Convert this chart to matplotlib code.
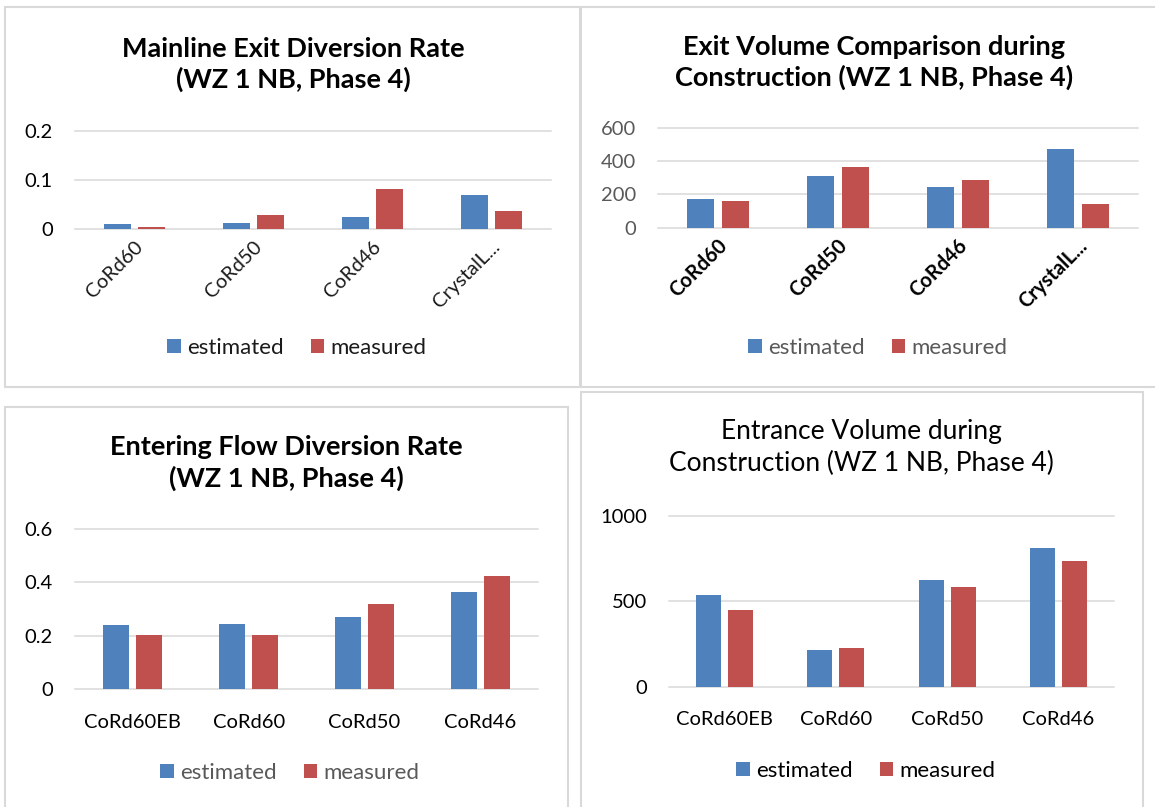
import numpy as np
import matplotlib
matplotlib.use('Agg')
import matplotlib.pyplot as plt
from matplotlib.patches import Rectangle
from matplotlib.transforms import ScaledTranslation

plt.rcParams['font.family'] = ['Lato', 'DejaVu Sans']

# data
exit_sites = ['CoRd60', 'CoRd50', 'CoRd46', 'CrystalL...']
enter_sites = ['CoRd60EB', 'CoRd60', 'CoRd50', 'CoRd46']
series = ['estimated', 'measured']

exit_rate_est = [0.0096, 0.0116, 0.0247, 0.0685]
exit_rate_meas = [0.0034, 0.029, 0.0815, 0.037]
exit_vol_est = [175, 311, 245, 472]
exit_vol_meas = [163, 367, 287, 142]
enter_rate_est = [0.239, 0.243, 0.270, 0.365]
enter_rate_meas = [0.204, 0.204, 0.319, 0.424]
enter_vol_est = [537, 214, 623, 809]
enter_vol_meas = [449, 226, 582, 735]

W, H = 1155, 807
BLUE, RED, GRID = '#4F81BD', '#C0504D', '#D9D9D9'

fig = plt.figure(figsize=(W / 100, H / 100), dpi=100)


def px_rect(x0, y0, x1, y1):
    return [x0 / W, 1 - y1 / H, (x1 - x0) / W, (y1 - y0) / H]


# panel borders
for x0, y0, x1, y1 in [(5, 7, 580, 387), (581, 7, 1165, 387),
                       (5, 407, 568, 820), (581, 392, 1143, 820)]:
    fig.patches.append(Rectangle((x0 / W, 1 - y1 / H), (x1 - x0) / W, (y1 - y0) / H,
                                 transform=fig.transFigure, fill=False,
                                 edgecolor=GRID, lw=1.5))


def panel(box, cats, est, meas, ticks, title, title_xy, bold_title, legend_xy,
          rotate=False, ytick_color='black', xtick_color='black',
          xtick_bold=False, legend_color='black'):
    ax = fig.add_axes(px_rect(*box))
    x = np.arange(len(cats))
    ax.bar(x - 0.143, est, 0.225, color=BLUE, label=series[0], zorder=3)
    ax.bar(x + 0.143, meas, 0.225, color=RED, label=series[1], zorder=3)
    ax.set_xlim(-0.5, len(cats) - 0.5)
    ax.set_ylim(ticks[0], ticks[-1])
    for t in ticks:
        ax.axhline(t, color=GRID, lw=1.1, zorder=1, clip_on=False)
    for s in ax.spines.values():
        s.set_visible(False)
    ax.set_yticks(ticks)
    ax.set_yticklabels([f'{t:g}' for t in ticks])
    ax.tick_params(axis='y', length=0, pad=16, labelsize=14.5, labelcolor=ytick_color)
    ax.set_xticks(x)
    if rotate:
        ax.set_xticklabels(cats, rotation=45, ha='right', va='center',
                           rotation_mode='anchor',
                           fontweight='bold' if xtick_bold else 'normal')
        ax.tick_params(axis='x', length=0, pad=11, labelsize=14.5, labelcolor=xtick_color)
        shift = ScaledTranslation(0.06, 0, fig.dpi_scale_trans)
        for lab in ax.get_xticklabels():
            lab.set_transform(lab.get_transform() + shift)
    else:
        ax.set_xticklabels(cats)
        ax.tick_params(axis='x', length=0, pad=17.5, labelsize=14.5, labelcolor=xtick_color)
    fig.text(title_xy[0] / W, 1 - title_xy[1] / H, title, ha='center', va='center',
             fontsize=19.5 if bold_title else 19,
             fontweight='bold' if bold_title else 'normal', linespacing=1.3)
    leg = ax.legend(loc='center', bbox_to_anchor=(legend_xy[0] / W, 1 - legend_xy[1] / H),
                    bbox_transform=fig.transFigure, ncol=2, frameon=False,
                    fontsize=16, handlelength=0.6, handleheight=0.6,
                    handletextpad=0.3, columnspacing=1.2, borderaxespad=0)
    for t in leg.get_texts():
        t.set_color(legend_color)
    return ax


panel((75, 131.3, 551, 228.7), exit_sites, exit_rate_est, exit_rate_meas,
      [0, 0.1, 0.2], 'Mainline Exit Diversion Rate\n(WZ 1 NB, Phase 4)',
      (293, 64.5), True, (297, 348), rotate=True, xtick_color='#1a1a1a',
      legend_color='#1a1a1a')

panel((658, 128, 1138, 227.7), exit_sites, exit_vol_est, exit_vol_meas,
      [0, 200, 400, 600], 'Exit Volume Comparison during\nConstruction (WZ 1 NB, Phase 4)',
      (874, 62.5), True, (878, 348), rotate=True, ytick_color='#595959',
      xtick_bold=True, legend_color='#595959')

panel((75, 528.7, 538, 689.3), enter_sites, enter_rate_est, enter_rate_meas,
      [0, 0.2, 0.4, 0.6], 'Entering Flow Diversion Rate\n(WZ 1 NB, Phase 4)',
      (286, 463), True, (290, 773), legend_color='#595959')

panel((669, 515.7, 1114, 687), enter_sites, enter_vol_est, enter_vol_meas,
      [0, 500, 1000], 'Entrance Volume during\nConstruction (WZ 1 NB, Phase 4)',
      (861, 447.5), False, (866, 771))

fig.savefig('out.png', dpi=100)
